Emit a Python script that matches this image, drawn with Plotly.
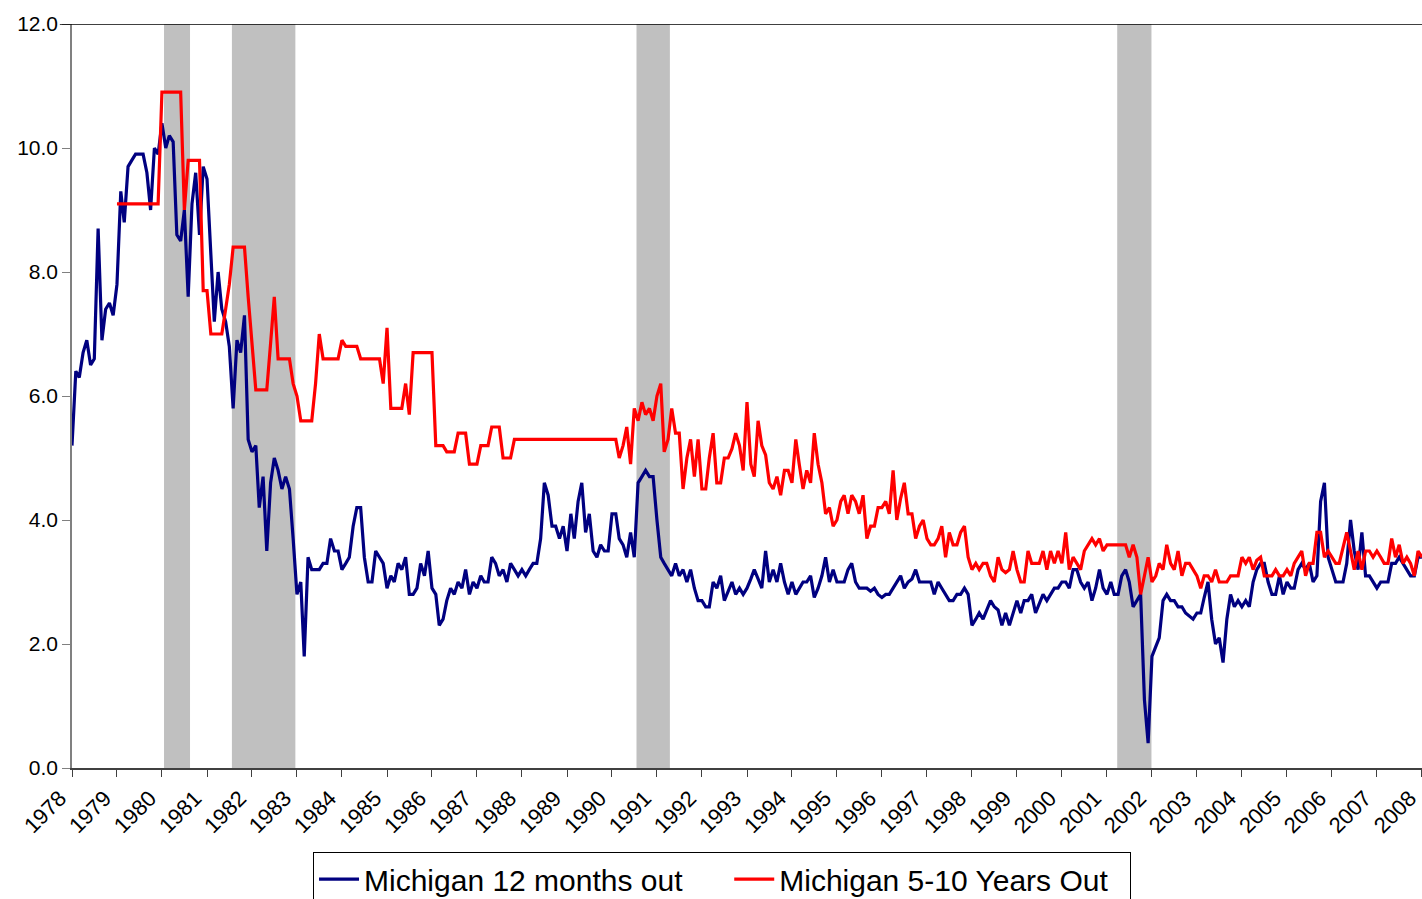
import pandas as pd
import plotly.graph_objects as go

# Michigan survey: expected inflation 12 months out (monthly, Jan 1978 - Jan 2008)
one_year = [
    5.2, 6.4, 6.3, 6.7, 6.9, 6.5, 6.6, 8.7, 6.9, 7.4, 7.5, 7.3,        # 1978
    7.8, 9.3, 8.8, 9.7, 9.8, 9.9, 9.9, 9.9, 9.6, 9.0, 10.0, 9.9,       # 1979
    10.4, 10.0, 10.2, 10.1, 8.6, 8.5, 9.0, 7.6, 9.1, 9.6, 8.6, 9.7,    # 1980
    9.5, 8.4, 7.2, 8.0, 7.4, 7.2, 6.8, 5.8, 6.9, 6.7, 7.3, 5.3,        # 1981
    5.1, 5.2, 4.2, 4.7, 3.5, 4.6, 5.0, 4.8, 4.5, 4.7, 4.5, 3.7,        # 1982
    2.8, 3.0, 1.8, 3.4, 3.2, 3.2, 3.2, 3.3, 3.3, 3.7, 3.5, 3.5,        # 1983
    3.2, 3.3, 3.4, 3.9, 4.2, 4.2, 3.4, 3.0, 3.0, 3.5, 3.4, 3.3,        # 1984
    2.9, 3.1, 3.0, 3.3, 3.2, 3.4, 2.8, 2.8, 2.9, 3.3, 3.1, 3.5,        # 1985
    2.9, 2.8, 2.3, 2.4, 2.7, 2.9, 2.8, 3.0, 2.9, 3.2, 2.8, 3.0,        # 1986
    2.9, 3.1, 3.0, 3.0, 3.4, 3.3, 3.1, 3.2, 3.0, 3.3, 3.2, 3.1,        # 1987
    3.2, 3.1, 3.2, 3.3, 3.3, 3.7, 4.6, 4.4, 3.9, 3.9, 3.7, 3.9,        # 1988
    3.5, 4.1, 3.7, 4.3, 4.6, 3.8, 4.1, 3.5, 3.4, 3.6, 3.5, 3.5,        # 1989
    4.1, 4.1, 3.7, 3.6, 3.4, 3.8, 3.4, 4.6, 4.7, 4.8, 4.7, 4.7,        # 1990
    4.0, 3.4, 3.3, 3.2, 3.1, 3.3, 3.1, 3.2, 3.0, 3.2, 2.9, 2.7,        # 1991
    2.7, 2.6, 2.6, 3.0, 2.9, 3.1, 2.7, 2.85, 3.0, 2.8, 2.9, 2.8,       # 1992
    2.9, 3.05, 3.2, 3.05, 2.9, 3.5, 3.0, 3.2, 3.0, 3.3, 3.0, 2.8,      # 1993
    3.0, 2.8, 2.9, 3.0, 3.0, 3.1, 2.75, 2.9, 3.1, 3.4, 3.0, 3.2,       # 1994
    3.0, 3.0, 3.0, 3.2, 3.3, 3.0, 2.9, 2.9, 2.9, 2.85, 2.9, 2.8,       # 1995
    2.75, 2.8, 2.8, 2.9, 3.0, 3.1, 2.9, 3.0, 3.05, 3.2, 3.0, 3.0,      # 1996
    3.0, 3.0, 2.8, 3.0, 2.9, 2.8, 2.7, 2.7, 2.8, 2.8, 2.9, 2.8,        # 1997
    2.3, 2.4, 2.5, 2.4, 2.55, 2.7, 2.6, 2.55, 2.3, 2.5, 2.3, 2.5,      # 1998
    2.7, 2.5, 2.7, 2.7, 2.8, 2.5, 2.65, 2.8, 2.7, 2.8, 2.9, 2.9,       # 1999
    3.0, 3.0, 2.9, 3.2, 3.2, 3.0, 2.9, 3.0, 2.7, 2.9, 3.2, 2.9,        # 2000
    2.8, 3.0, 2.8, 2.8, 3.1, 3.2, 3.0, 2.6, 2.7, 2.8, 1.1, 0.4,        # 2001
    1.8, 1.95, 2.1, 2.7, 2.8, 2.7, 2.7, 2.6, 2.6, 2.5, 2.45, 2.4,      # 2002
    2.5, 2.5, 2.75, 3.0, 2.4, 2.0, 2.1, 1.7, 2.4, 2.8, 2.6, 2.7,       # 2003
    2.6, 2.7, 2.6, 3.0, 3.2, 3.3, 3.3, 3.0, 2.8, 2.8, 3.1, 2.8,        # 2004
    3.0, 2.9, 2.9, 3.2, 3.3, 3.2, 3.3, 3.0, 3.1, 4.3, 4.6, 3.4,        # 2005
    3.2, 3.0, 3.0, 3.0, 3.3, 4.0, 3.5, 3.2, 3.8, 3.1, 3.1, 3.0,        # 2006
    2.9, 3.0, 3.0, 3.0, 3.3, 3.3, 3.4, 3.3, 3.2, 3.1, 3.1, 3.4,        # 2007
    3.4,                                                               # 2008
]

# Michigan survey: expected inflation 5-10 years out (monthly, Jan 1979 - Jan 2008)
long_run = [
    9.1, 9.1, 9.1, 9.1, 9.1, 9.1, 9.1, 9.1, 9.1, 9.1, 9.1, 9.1,        # 1979
    10.9, 10.9, 10.9, 10.9, 10.9, 10.9, 9.0, 9.8, 9.8, 9.8, 9.8, 7.7,  # 1980
    7.7, 7.0, 7.0, 7.0, 7.0, 7.4, 7.8, 8.4, 8.4, 8.4, 8.4, 7.6,        # 1981
    6.9, 6.1, 6.1, 6.1, 6.1, 6.85, 7.6, 6.6, 6.6, 6.6, 6.6, 6.2,       # 1982
    6.0, 5.6, 5.6, 5.6, 5.6, 6.2, 7.0, 6.6, 6.6, 6.6, 6.6, 6.6,        # 1983
    6.9, 6.8, 6.8, 6.8, 6.8, 6.6, 6.6, 6.6, 6.6, 6.6, 6.6, 6.2,        # 1984
    7.1, 5.8, 5.8, 5.8, 5.8, 6.2, 5.7, 6.7, 6.7, 6.7, 6.7, 6.7,        # 1985
    6.7, 5.2, 5.2, 5.2, 5.1, 5.1, 5.1, 5.4, 5.4, 5.4, 4.9, 4.9,        # 1986
    4.9, 5.2, 5.2, 5.2, 5.5, 5.5, 5.5, 5.0, 5.0, 5.0, 5.3, 5.3,        # 1987
    5.3, 5.3, 5.3, 5.3, 5.3, 5.3, 5.3, 5.3, 5.3, 5.3, 5.3, 5.3,        # 1988
    5.3, 5.3, 5.3, 5.3, 5.3, 5.3, 5.3, 5.3, 5.3, 5.3, 5.3, 5.3,        # 1989
    5.3, 5.3, 5.0, 5.2, 5.5, 4.9, 5.8, 5.6, 5.9, 5.7, 5.8, 5.6,        # 1990
    6.0, 6.2, 5.1, 5.3, 5.8, 5.4, 5.4, 4.5, 5.0, 5.3, 4.7, 5.3,        # 1991
    4.5, 4.5, 5.0, 5.4, 4.6, 4.6, 5.0, 5.0, 5.15, 5.4, 5.2, 4.8,       # 1992
    5.9, 4.9, 4.7, 5.6, 5.2, 5.05, 4.6, 4.5, 4.7, 4.4, 4.8, 4.8,       # 1993
    4.6, 5.3, 4.9, 4.5, 4.8, 4.6, 5.4, 4.9, 4.6, 4.1, 4.2, 3.9,        # 1994
    4.0, 4.3, 4.4, 4.1, 4.4, 4.3, 4.1, 4.4, 3.7, 3.9, 3.9, 4.2,        # 1995
    4.2, 4.3, 4.1, 4.8, 4.0, 4.35, 4.6, 4.1, 4.1, 3.7, 3.9, 4.0,       # 1996
    3.7, 3.6, 3.6, 3.7, 3.9, 3.4, 3.8, 3.6, 3.6, 3.8, 3.9, 3.4,        # 1997
    3.2, 3.3, 3.2, 3.3, 3.3, 3.1, 3.0, 3.4, 3.2, 3.15, 3.2, 3.5,       # 1998
    3.2, 3.0, 3.0, 3.5, 3.3, 3.3, 3.3, 3.5, 3.2, 3.5, 3.3, 3.5,        # 1999
    3.3, 3.8, 3.2, 3.4, 3.3, 3.2, 3.5, 3.6, 3.7, 3.6, 3.7, 3.5,        # 2000
    3.6, 3.6, 3.6, 3.6, 3.6, 3.6, 3.4, 3.6, 3.4, 2.8, 3.1, 3.4,        # 2001
    3.0, 3.1, 3.3, 3.2, 3.6, 3.3, 3.2, 3.5, 3.1, 3.3, 3.3, 3.2,        # 2002
    3.1, 2.9, 3.1, 3.1, 3.0, 3.2, 3.0, 3.0, 3.0, 3.1, 3.1, 3.1,        # 2003
    3.4, 3.3, 3.4, 3.2, 3.35, 3.4, 3.1, 3.1, 3.1, 3.2, 3.1, 3.1,       # 2004
    3.2, 3.1, 3.3, 3.4, 3.5, 3.1, 3.3, 3.3, 3.8, 3.8, 3.4, 3.5,        # 2005
    3.4, 3.3, 3.3, 3.55, 3.8, 3.5, 3.2, 3.5, 3.2, 3.5, 3.5, 3.4,       # 2006
    3.5, 3.4, 3.3, 3.3, 3.7, 3.4, 3.6, 3.3, 3.4, 3.3, 3.1, 3.5,        # 2007
    3.4,                                                               # 2008
]

years = list(range(1978, 2009))

# shaded recession periods
recessions = [
    ("1980-01-18", "1980-08-16"),
    ("1981-07-22", "1982-12-19"),
    ("1990-07-19", "1991-04-16"),
    ("2001-03-25", "2001-12-28"),
]

dates_short = pd.date_range("1978-01-01", periods=len(one_year), freq="MS")
dates_long = pd.date_range("1979-01-01", periods=len(long_run), freq="MS")

font = "Liberation Sans, Arial, sans-serif"
nbsp = "\u00a0"

fig = go.Figure()

fig.add_trace(go.Scatter(x=dates_short, y=one_year, mode="lines",
                         name="Michigan 12 months out" + nbsp * 5,
                         line=dict(color="#000080", width=3.2)))
fig.add_trace(go.Scatter(x=dates_long, y=long_run, mode="lines",
                         name="Michigan 5-10 Years Out" + nbsp * 2,
                         line=dict(color="#FF0000", width=3.2)))

for a, b in recessions:
    fig.add_vrect(x0=a, x1=b, fillcolor="#C0C0C0", opacity=1,
                  line_width=0, layer="below")

# black top line at 12.0
fig.add_shape(type="line", xref="paper", yref="y", x0=-0.009, x1=1,
              y0=12, y1=12, line=dict(color="black", width=1.5))

fig.update_layout(
    width=1422, height=899,
    margin=dict(l=72, r=0, t=24, b=131, autoexpand=False),
    plot_bgcolor="white", paper_bgcolor="white",
    font=dict(family=font, color="black"),
    showlegend=True,
    legend=dict(orientation="h", x=0.4815, xanchor="center",
                y=-0.113, yanchor="top",
                bordercolor="black", borderwidth=1,
                font=dict(size=30), itemwidth=40),
)

fig.update_xaxes(
    range=["1978-01-01", "2008-01-02"],
    tickvals=[f"{y}-01-01" for y in years],
    ticktext=[str(y) for y in years],
    tickangle=-45, tickfont=dict(size=22), ticklabelshift=-12,
    ticklabeloverflow="allow",
    ticks="outside", ticklen=7, tickcolor="#404040",
    showline=True, linecolor="#404040", linewidth=1.5,
    showgrid=False, zeroline=False, automargin=False,
)

fig.update_yaxes(
    range=[0, 12], dtick=2, tickformat=".1f",
    tickfont=dict(size=21),
    ticks="outside", ticklen=8, tickcolor="#808080",
    showline=True, linecolor="#808080", linewidth=1.5,
    showgrid=False, zeroline=False, automargin=False,
)

# page body has a default margin; remove it so the figure fills the window
fig.write_html("out.html", config={"displayModeBar": False},
               post_script="document.body.style.margin='0';")
